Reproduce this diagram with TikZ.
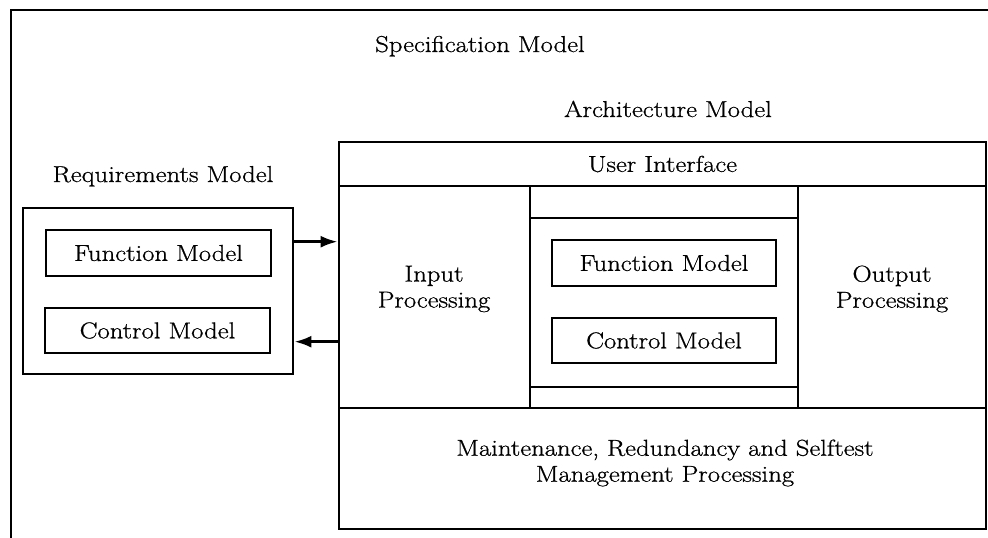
\documentclass[tikz,border=0pt]{standalone}
\usepackage{fontspec}
\setmainfont{Latin Modern Roman}[FakeStretch=1.16, FakeBold=0.8]
\usetikzlibrary{arrows.meta}
\begin{document}
\begin{tikzpicture}[x=1pt,y=-1pt,
  every node/.style={font=\fontsize{23}{26}\selectfont, align=center},
  box/.style={draw, line width=2.8pt, rectangle, inner sep=0pt},
  txt/.style={inner sep=0pt},
  link/.style={line width=2.8pt, -{Latex[length=17pt,width=12pt]}}
]
\useasboundingbox (0,0) rectangle (988,538);

% open outer frame of the specification model
\begin{scope}
  \clip (0,0) rectangle (988,538);
  \draw[line width=2.8pt] (11,560) -- (11,10) -- (1000,10);
\end{scope}

% titles
\node[txt, anchor=base] (spec) at (480,52) {Specification Model};
\node[txt, anchor=base] (archlbl) at (668,117) {Architecture Model};
\node[txt, anchor=base] (reqlbl) at (163,182) {Requirements Model};

% requirements model
\node[box, minimum width=270pt, minimum height=166pt] (req) at (158,291) {};
\node[box, minimum width=225pt, minimum height=46pt] (rfm) at (158.5,253) {Function Model};
\node[box, minimum width=225pt, minimum height=45pt] (rcm) at (157.5,330.5) {Control Model};

% architecture model
\node[box, minimum width=647pt, minimum height=387pt] (arch) at (662.5,335.5) {};
\node[box, minimum width=647pt, minimum height=44pt] (ui) at (662.5,164) {User Interface};
\node[box, minimum width=191pt, minimum height=222pt] (inproc) at (434.5,297) {};
\node[box, minimum width=268pt, minimum height=222pt] (core) at (664,297) {};
\node[box, minimum width=268pt, minimum height=169pt] (corein) at (664,302.5) {};
\node[box, minimum width=188pt, minimum height=222pt] (outproc) at (892,297) {};
\node[box, minimum width=647pt, minimum height=121pt] (maint) at (662.5,468.5) {};

\node[txt] (inlbl) at (434,289) {Input\\Processing};
\node[txt] (outlbl) at (892,289) {Output\\Processing};
\node[txt] (mlbl) at (665,463) {Maintenance, Redundancy and Selftest\\Management Processing};
\node[box, minimum width=224pt, minimum height=46pt] (afm) at (664,263) {Function Model};
\node[box, minimum width=224pt, minimum height=45pt] (acm) at (664,340.5) {Control Model};

% exchanges between the two models
\draw[link] (req.east |- 0,241.7) -- (arch.west |- 0,241.7);
\draw[link] (arch.west |- 0,341.7) -- (req.east |- 0,341.7);
\end{tikzpicture}
\end{document}
